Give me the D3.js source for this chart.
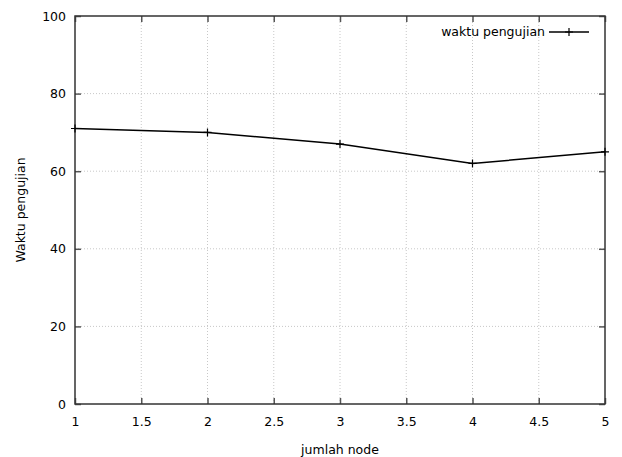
<!DOCTYPE html>
<html>
<head>
<meta charset="utf-8">
<script src="https://cdn.jsdelivr.net/npm/d3@7"></script>
<style>
  body { margin: 0; background: #fff; }
  text { font-family: "DejaVu Sans", Verdana, sans-serif; font-size: 12.5px; fill: #000; }
</style>
</head>
<body>
<div id="chart"></div>
<script>
// data
var nodes = [1, 2, 3, 4, 5];
var waktu = [71, 70, 67, 62, 65];
var xTicks = [1, 1.5, 2, 2.5, 3, 3.5, 4, 4.5, 5];
var yTicks = [0, 20, 40, 60, 80, 100];
var seriesName = "waktu pengujian";

var W = 622, H = 457;
var margin = {top: 16, right: 17, bottom: 53, left: 75};
var width = W - margin.left - margin.right;
var height = H - margin.top - margin.bottom;

var svg = d3.select("#chart").append("svg")
    .attr("width", W)
    .attr("height", H)
  .append("g")
    .attr("transform", "translate(" + margin.left + "," + margin.top + ")");

var x = d3.scaleLinear().domain([1, 5]).range([0, width]);
var y = d3.scaleLinear().domain([0, 100]).range([height, 0]);

// grid
svg.append("g").selectAll("line")
  .data(xTicks.slice(1, -1))
  .enter().append("line")
    .attr("x1", d => x(d)).attr("x2", d => x(d))
    .attr("y1", 0).attr("y2", height)
    .attr("stroke", "#c8c8c8")
    .attr("stroke-dasharray", "1,2");
svg.append("g").selectAll("line")
  .data(yTicks.slice(1, -1))
  .enter().append("line")
    .attr("y1", d => y(d)).attr("y2", d => y(d))
    .attr("x1", 0).attr("x2", width)
    .attr("stroke", "#c8c8c8")
    .attr("stroke-dasharray", "1,2");

// axes with inward ticks, mirrored on top/right
var xAxis = d3.axisBottom(x).tickValues(xTicks).tickSize(-6).tickPadding(13)
    .tickFormat(d3.format("~g"));
var yAxis = d3.axisLeft(y).tickValues(yTicks).tickSize(-6).tickPadding(9);

var gx = svg.append("g").attr("transform", "translate(0," + height + ")").call(xAxis);
var gy = svg.append("g").call(yAxis);
var gx2 = svg.append("g").call(d3.axisTop(x).tickValues(xTicks).tickSize(-6).tickFormat(""));
var gy2 = svg.append("g").attr("transform", "translate(" + width + ",0)")
    .call(d3.axisRight(y).tickValues(yTicks).tickSize(-6).tickFormat(""));

[gx, gy, gx2, gy2].forEach(function(g) {
  g.select(".domain").remove();
  g.selectAll(".tick line").attr("stroke", "#555").attr("stroke-width", 1.5);
  g.selectAll(".tick text").style("font-family", "DejaVu Sans, sans-serif").style("font-size", "12.5px").attr("fill", "#000");
});

// border
svg.append("rect")
  .attr("x", 0).attr("y", 0)
  .attr("width", width).attr("height", height)
  .attr("fill", "none")
  .attr("stroke", "#333")
  .attr("stroke-width", 1.5);

// line
var line = d3.line()
  .x((d, i) => x(nodes[i]))
  .y(d => y(d));

svg.append("path")
  .datum(waktu)
  .attr("d", line)
  .attr("fill", "none")
  .attr("stroke", "#000")
  .attr("stroke-width", 1.5);

function plus(g, cx, cy) {
  g.append("path")
    .attr("d", "M" + (cx - 4) + "," + cy + "h8M" + cx + "," + (cy - 4) + "v8")
    .attr("stroke", "#000")
    .attr("stroke-width", 1.2);
}
var marks = svg.append("g");
waktu.forEach(function(d, i) { plus(marks, x(nodes[i]), y(d)); });

// legend
var leg = svg.append("g").attr("transform", "translate(" + (width - 56) + ",16)");
leg.append("text").attr("x", -4).attr("y", 4).attr("text-anchor", "end").text(seriesName);
leg.append("line").attr("x1", 0).attr("x2", 40).attr("y1", 0).attr("y2", 0)
  .attr("stroke", "#000").attr("stroke-width", 1.5);
plus(leg, 20, 0);

// axis labels
svg.append("text")
  .attr("x", width / 2).attr("y", height + 50)
  .attr("text-anchor", "middle")
  .text("jumlah node");
svg.append("text")
  .attr("transform", "translate(" + (-50) + "," + (height / 2) + ") rotate(-90)")
  .attr("text-anchor", "middle")
  .text("Waktu pengujian");
</script>
</body>
</html>
